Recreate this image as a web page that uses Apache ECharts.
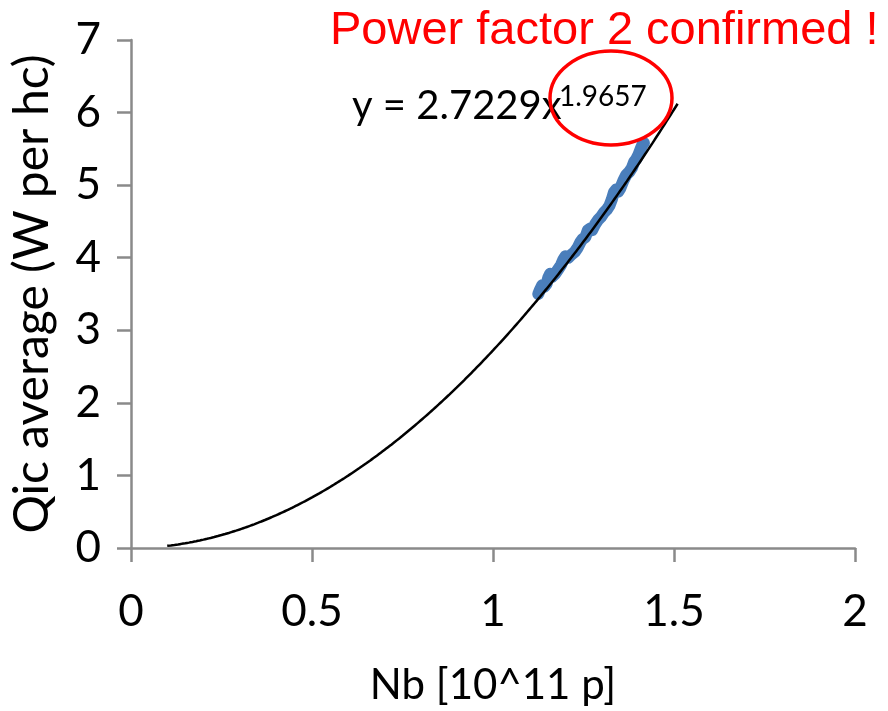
<!DOCTYPE html>
<html>
<head>
<meta charset="utf-8">
<script src="https://cdn.jsdelivr.net/npm/echarts@6/dist/echarts.min.js"></script>
<style>
  html, body { margin: 0; padding: 0; background: #ffffff; }
  #chart { width: 888px; height: 711px; }
</style>
</head>
<body>
<div id="chart"></div>
<script>
// Bunch intensity (10^11 protons) and the measured average heat load per half-cell
const nbValues = [
  1.125, 1.130, 1.136, 1.142, 1.148, 1.153, 1.158, 1.164, 1.172, 1.180,
  1.188, 1.194, 1.200, 1.208, 1.216, 1.226, 1.234, 1.242, 1.248, 1.255,
  1.262, 1.268, 1.274, 1.282, 1.290, 1.298, 1.306, 1.314, 1.322, 1.328,
  1.334, 1.340, 1.346, 1.352, 1.360, 1.368, 1.376, 1.384, 1.390, 1.396,
  1.402, 1.408, 1.413, 1.417
];
const qicValues = [
  3.50, 3.56, 3.62, 3.60, 3.64, 3.73, 3.78, 3.74, 3.78, 3.84,
  3.90, 3.97, 4.02, 4.00, 4.04, 4.08, 4.14, 4.22, 4.26, 4.28,
  4.38, 4.40, 4.38, 4.46, 4.52, 4.56, 4.62, 4.66, 4.72, 4.80,
  4.90, 4.94, 4.91, 4.96, 5.06, 5.14, 5.18, 5.24, 5.32, 5.36,
  5.42, 5.50, 5.56, 5.58
];

// Power-law trendline y = a * x^b, as given in the equation label
const fitCoef = 2.7229;
const fitPower = 1.9657;
const fitStart = 0.1;
const fitEnd = 1.51;

// Axis ticks
const xTicks = [0, 0.5, 1, 1.5, 2];
const yTicks = [0, 1, 2, 3, 4, 5, 6, 7];

const measured = nbValues.map((x, i) => [x, qicValues[i]]);
const trend = [];
for (let k = 0; fitStart + k * 0.01 <= fitEnd + 1e-9; k++) {
  const x = fitStart + k * 0.01;
  trend.push([x, fitCoef * Math.pow(x, fitPower)]);
}

const axisGrey = '#8a8a8a';
const bodyFont = 'Lato, "Open Sans", sans-serif';

const chart = echarts.init(document.getElementById('chart'), null, { renderer: 'canvas' });
chart.setOption({
  backgroundColor: '#ffffff',
  animation: false,
  grid: { left: 131, right: 33, top: 40, bottom: 160, containLabel: false },
  xAxis: {
    type: 'value',
    min: xTicks[0],
    max: xTicks[xTicks.length - 1],
    interval: xTicks[1] - xTicks[0],
    name: 'Nb [10^11 p]',
    nameLocation: 'middle',
    nameGap: 116,
    nameTextStyle: { fontFamily: bodyFont, fontSize: 42, color: '#000000' },
    axisLine: { show: true, onZero: false, lineStyle: { color: axisGrey, width: 2.5 } },
    axisTick: { show: true, inside: false, length: 14, lineStyle: { color: axisGrey, width: 2.5 } },
    axisLabel: { margin: 42, fontFamily: bodyFont, fontSize: 44, color: '#000000' },
    splitLine: { show: false }
  },
  yAxis: {
    type: 'value',
    min: yTicks[0],
    max: yTicks[yTicks.length - 1],
    interval: yTicks[1] - yTicks[0],
    name: 'Qic average (W per hc)',
    nameLocation: 'middle',
    nameGap: 74,
    nameRotate: 90,
    nameTextStyle: { fontFamily: bodyFont, fontSize: 48, color: '#000000' },
    axisLine: { show: true, onZero: false, lineStyle: { color: axisGrey, width: 2.5 } },
    axisTick: { show: true, inside: false, length: 14, lineStyle: { color: axisGrey, width: 2.5 } },
    axisLabel: { margin: 30, fontFamily: bodyFont, fontSize: 44, color: '#000000' },
    splitLine: { show: false }
  },
  series: [
    {
      name: 'Measured',
      type: 'line',
      data: measured,
      showSymbol: false,
      smooth: false,
      lineStyle: { color: '#4a7ebb', width: 12, cap: 'round', join: 'round' },
      z: 2
    },
    {
      name: 'Power fit',
      type: 'line',
      data: trend,
      showSymbol: false,
      smooth: true,
      lineStyle: { color: '#000000', width: 2.5 },
      z: 3
    }
  ],
  graphic: [
    {
      type: 'text',
      left: 330,
      top: 8,
      style: {
        text: 'Power factor 2 confirmed !',
        fill: '#ff0000',
        font: '47px "Liberation Sans", Arial, sans-serif'
      },
      z: 10
    },
    {
      type: 'text',
      left: 352,
      top: 86,
      style: {
        text: 'y = 2.7229x',
        fill: '#000000',
        font: '40px Lato, "Open Sans", sans-serif'
      },
      z: 10
    },
    {
      type: 'text',
      left: 559,
      top: 83,
      style: {
        text: '1.9657',
        fill: '#000000',
        font: '28px Lato, "Open Sans", sans-serif'
      },
      z: 10
    },
    {
      type: 'ellipse',
      shape: { cx: 611, cy: 98, rx: 61, ry: 47 },
      style: { fill: 'none', stroke: '#ff0000', lineWidth: 3.5 },
      z: 11
    }
  ]
});
</script>
</body>
</html>
